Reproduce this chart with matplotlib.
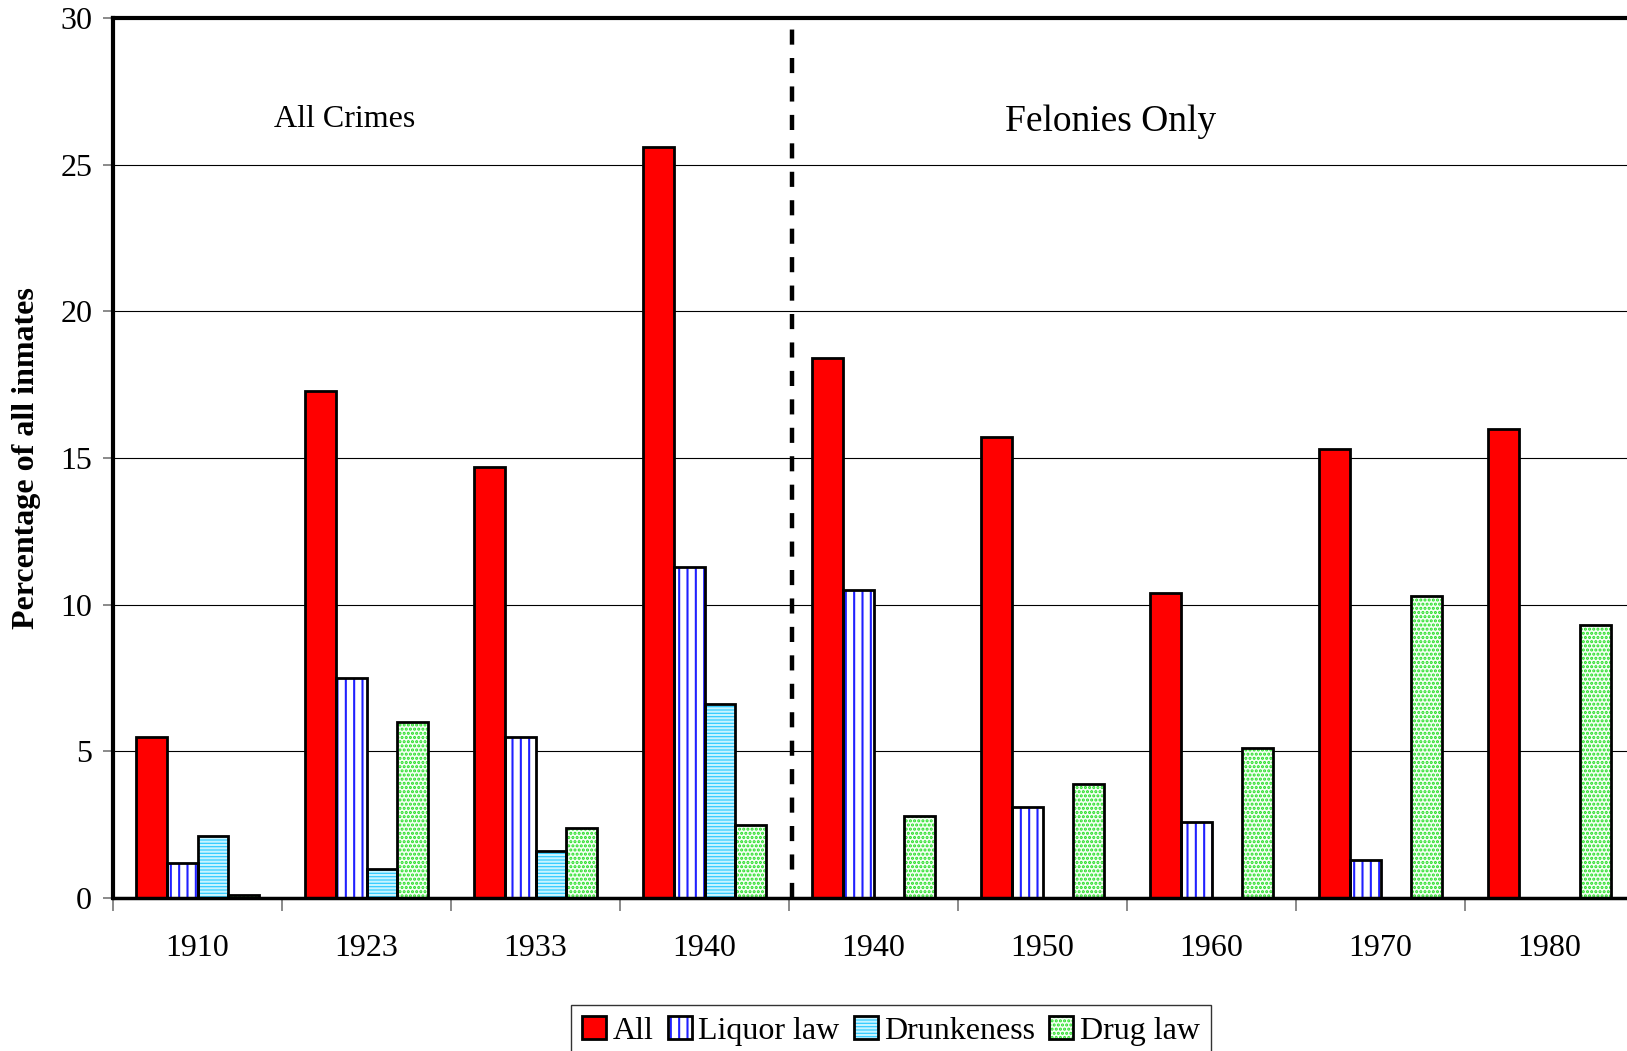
import numpy as np
import matplotlib
matplotlib.use("Agg")
import matplotlib.pyplot as plt
from matplotlib.patches import Patch

plt.rcParams['font.family'] = ['Liberation Serif', 'DejaVu Serif']
plt.rcParams['hatch.linewidth'] = 1.5

# percentage of all inmates, by offence type
years = ['1910', '1923', '1933', '1940', '1940', '1950', '1960', '1970', '1980']
all_crimes = [5.5, 17.3, 14.7, 25.6, 18.4, 15.7, 10.4, 15.3, 16.0]
liquor_law = [1.2, 7.5, 5.5, 11.3, 10.5, 3.1, 2.6, 1.3, np.nan]
drunkeness = [2.1, 1.0, 1.6, 6.6, np.nan, np.nan, np.nan, np.nan, np.nan]
drug_law = [0.1, 6.0, 2.4, 2.5, 2.8, 3.9, 5.1, 10.3, 9.3]

series = [
    ('All', all_crimes, '#ff0000', None, '#ff0000'),
    ('Liquor law', liquor_law, 'white', '||', '#2020ff'),
    ('Drunkeness', drunkeness, '#33ccff', '-----', '#c8f4ff'),
    ('Drug law', drug_law, '#f4fff4', '....', '#22dd22'),
]

fig = plt.figure(figsize=(16.27, 10.51), dpi=100)
ax = fig.add_axes([0.0695, 0.1456, 0.9348, 0.8373])

x = np.arange(len(years))
w = 0.183
handles = []
for i, (name, vals, face, hatch, hcol) in enumerate(series):
    pos = x + (i - 1.5) * w
    # fill + hatch first, then a plain black outline on top
    ax.bar(pos, vals, w, color=face, hatch=hatch, edgecolor=hcol, linewidth=0, zorder=2)
    ax.bar(pos, vals, w, fill=False, edgecolor='black', linewidth=2.0, zorder=3)
    handles.append((Patch(facecolor=face, hatch=hatch, edgecolor=hcol, linewidth=0),
                    Patch(fill=False, edgecolor='black', linewidth=2.0)))

ax.set_xlim(-0.5, 8.5)
ax.set_ylim(0, 30)
ax.set_yticks(range(0, 31, 5))
ax.yaxis.grid(True, color='black', linewidth=0.8, zorder=0)
ax.set_axisbelow(True)

# category boundaries get the tick marks, centres get the labels
ax.set_xticks(np.arange(-0.5, 9, 1))
ax.set_xticklabels([])
ax.set_xticks(x, minor=True)
ax.set_xticklabels(years, minor=True)
ax.tick_params(axis='x', which='major', direction='out', length=9, width=1.2, color='#777777')
ax.tick_params(axis='x', which='minor', length=0, pad=26, labelsize=23)
ax.tick_params(axis='y', direction='out', length=7, width=1.2, color='#777777', pad=8, labelsize=23)

for side in ['top', 'left']:
    ax.spines[side].set_linewidth(3)
ax.spines['bottom'].set_linewidth(2.5)
ax.spines['right'].set_visible(False)

ax.axvline(3.52, color='black', linestyle=(0, (3.4, 3.0)), linewidth=3.2, zorder=4)

ax.text(0.87, 26.55, 'All Crimes', fontsize=23, ha='center', va='center')
ax.text(5.4, 26.45, 'Felonies Only', fontsize=27, ha='center', va='center')

ax.set_ylabel('Percentage of all inmates', fontsize=23, fontweight='bold', labelpad=14)

leg = fig.legend(handles, [s[0] for s in series], loc='upper center',
                 bbox_to_anchor=(0.5476, 0.0440), ncol=4, fontsize=23,
                 frameon=True, fancybox=False, edgecolor='black',
                 handlelength=0.75, handleheight=0.75, handletextpad=0.2,
                 columnspacing=0.45, borderpad=0.35, borderaxespad=0)
leg.get_frame().set_linewidth(1.0)

fig.savefig('out.png', dpi=100)
